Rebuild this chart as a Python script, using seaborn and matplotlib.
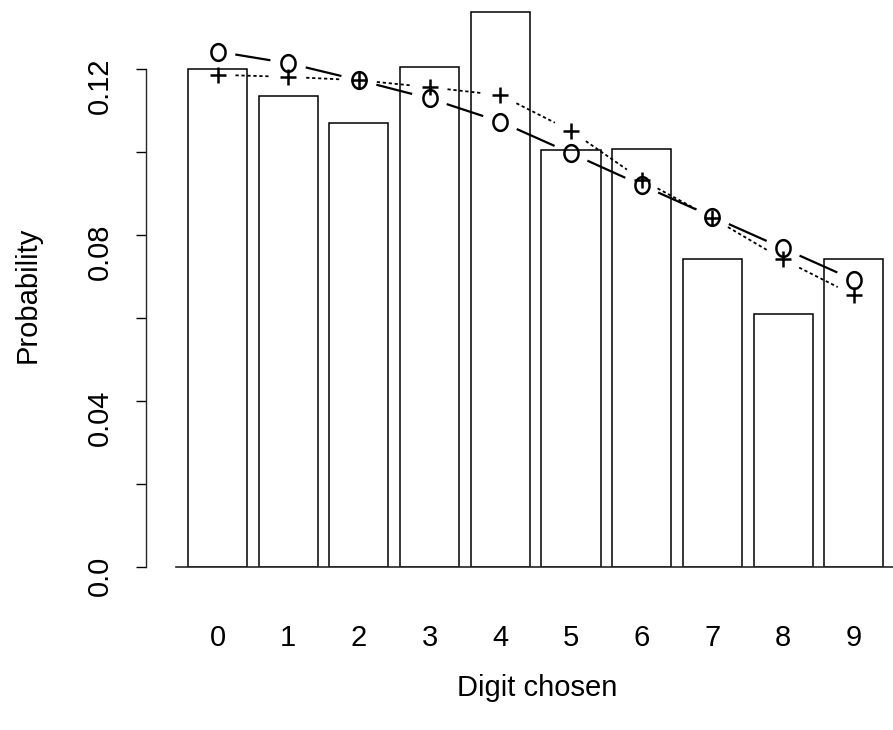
import numpy as np
import matplotlib
matplotlib.use("Agg")
import matplotlib.pyplot as plt
from matplotlib.path import Path
import pandas as pd
import seaborn as sns

# digit preference data
digits = [0, 1, 2, 3, 4, 5, 6, 7, 8, 9]
observed = [0.1199, 0.1135, 0.1069, 0.1204, 0.1338, 0.1005, 0.1007, 0.0741, 0.0609, 0.0741]
fit_o = [0.1242, 0.1214, 0.1173, 0.1129, 0.1073, 0.0997, 0.0920, 0.0844, 0.0768, 0.0692]
fit_plus = [0.1186, 0.1181, 0.1173, 0.1156, 0.1137, 0.1051, 0.0933, 0.0841, 0.0741, 0.0655]
y_ticks = [0.0, 0.04, 0.08, 0.12]
y_tick_labels = ["0.0", "0.04", "0.08", "0.12"]
y_minor = [0.02, 0.06, 0.10]

sns.set_style("ticks")
plt.rcParams["font.family"] = ["Liberation Sans", "DejaVu Sans"]
plt.rcParams["text.color"] = "black"
FS = 21
DPI = 100


def gapped_segments(ax, xs, ys, gap_px):
    # R type="b": lines stop short of each point
    pts = ax.transData.transform(np.column_stack([xs, ys]))
    inv = ax.transData.inverted()
    segs = []
    for p0, p1 in zip(pts[:-1], pts[1:]):
        d = p1 - p0
        n = np.hypot(*d)
        if n <= 2 * gap_px:
            continue
        u = d / n
        segs.append((inv.transform(p0 + u * gap_px), inv.transform(p1 - u * gap_px)))
    return segs


def main():
    fig = plt.figure(figsize=(8.93, 7.30), dpi=DPI)
    ax = fig.add_axes([176 / 893, (730 - 567) / 730, 717 / 893, 562 / 730])

    df = pd.DataFrame({"digit": digits, "prob": observed})
    sns.barplot(data=df, x="digit", y="prob", color="white", edgecolor="black",
                linewidth=1.1, width=0.835, saturation=1, ax=ax)

    ax.set_xlim((176 - 217.5) / 70.7, (893 - 217.5) / 70.7)
    ax.set_ylim(0, 562 / 4150)

    ellipse_t = np.linspace(0, 2 * np.pi, 60)
    o_marker = Path(np.column_stack([0.85 * np.cos(ellipse_t), np.sin(ellipse_t)]))

    for (a, b) in gapped_segments(ax, digits, fit_o, 18):
        ax.plot([a[0], b[0]], [a[1], b[1]], color="black", lw=1.6,
                solid_capstyle="butt")
    for (a, b) in gapped_segments(ax, digits, fit_plus, 18):
        ax.plot([a[0], b[0]], [a[1], b[1]], color="black", lw=1.3,
                linestyle=(0, (1.8, 1.5)))

    ax.plot(digits, fit_o, linestyle="none", marker=o_marker, markersize=12,
            markerfacecolor="none", markeredgecolor="black", markeredgewidth=1.8)
    ax.plot(digits, fit_plus, linestyle="none", marker="+", markersize=12,
            markeredgecolor="black", markeredgewidth=1.8)

    for side in ["top", "right"]:
        ax.spines[side].set_visible(False)
    ax.spines["left"].set_position(("outward", 30 * 72 / DPI))
    ax.spines["left"].set_bounds(0, 0.12)
    ax.spines["left"].set_linewidth(1.0)
    ax.spines["bottom"].set_linewidth(1.2)

    ax.set_yticks(y_ticks)
    ax.set_yticklabels(y_tick_labels)
    ax.set_yticks(y_minor, minor=True)
    ax.tick_params(axis="y", which="both", length=10 * 72 / DPI, width=1.0,
                   labelsize=FS, labelrotation=90, pad=16, colors="black")
    ax.tick_params(axis="x", length=0, labelsize=FS, pad=41, colors="black")

    ax.set_xlabel("")
    ax.set_ylabel("")
    fig.text(537 / 893, 1 - 688 / 730, "Digit chosen", fontsize=FS,
             ha="center", va="center", color="black")
    fig.text(28 / 893, 1 - 295 / 730, "Probability", fontsize=FS,
             ha="center", va="center", rotation=90, color="black")

    fig.savefig("out.png", dpi=DPI)
    plt.close(fig)


if __name__ == "__main__":
    main()
